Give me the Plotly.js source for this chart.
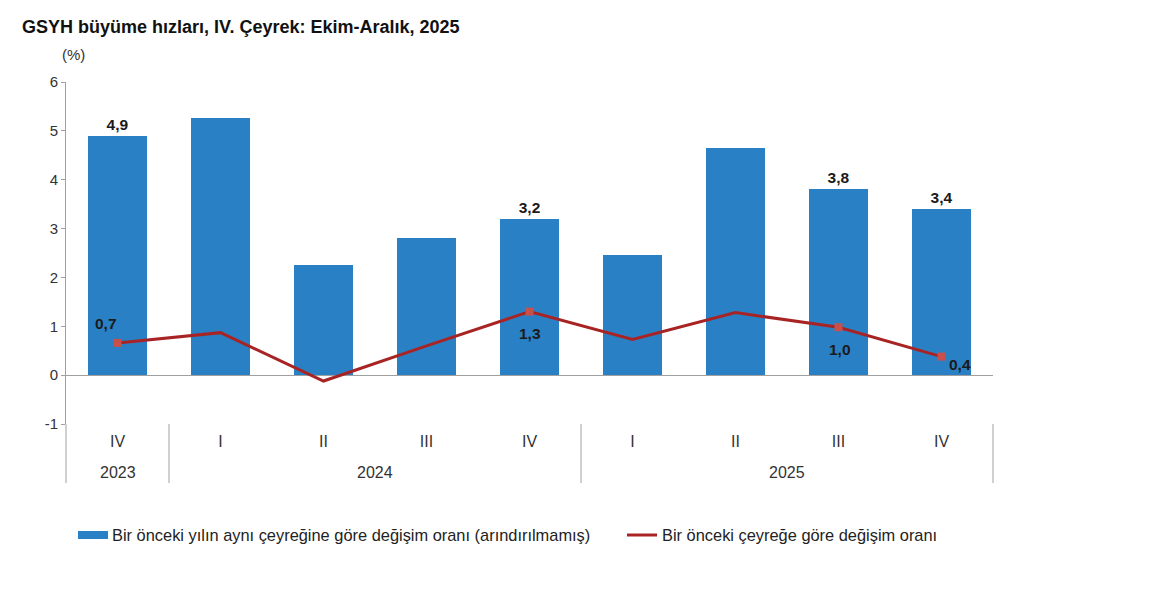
<!DOCTYPE html>
<html>
<head>
<meta charset="utf-8">
<script src="https://cdn.plot.ly/plotly-3.0.1.min.js"></script>
<style>html,body{margin:0;padding:0;background:#fff;}#chart{width:1164px;height:591px;}</style>
</head>
<body>
<div id="chart"></div>
<script>
// ---- data ----
const quarters = ['IV', 'I', 'II', 'III', 'IV', 'I', 'II', 'III', 'IV'];
const years = ['2023', '2024', '2025'];
const yearSpans = [[0, 0], [1, 4], [5, 8]];           // first/last quarter index of each year
const annualChange = [4.9, 5.26, 2.25, 2.81, 3.2, 2.46, 4.65, 3.8, 3.4];
const quarterlyChange = [0.66, 0.87, -0.12, 0.6, 1.3, 0.73, 1.28, 0.98, 0.38];
const annualLabelled = [true, false, false, false, true, false, false, true, true];
const quarterlyLabelled = [true, false, false, false, true, false, false, true, true];
const yTickVals = [-1, 0, 1, 2, 3, 4, 5, 6];
const yTickText = ['-1', '0', '1', '2', '3', '4', '5', '6'];
const seriesNames = ['Bir önceki yılın aynı çeyreğine göre değişim oranı (arındırılmamış)', 'Bir önceki çeyreğe göre değişim oranı'];

// ---- build ----
const idx = quarters.map((_, i) => i);
const fmt = v => v.toFixed(1).replace('.', ',');
const FONT = 'Liberation Sans, Arial, sans-serif';
const BLUE = '#2a80c5';
const RED = '#a82424';
const MARK = '#c8504b';
const GREY = '#a0a0a0';

const barTrace = {
  type: 'bar', x: idx, y: annualChange, width: 0.575,
  marker: {color: BLUE},
  text: annualChange.map((v, i) => annualLabelled[i] ? fmt(v) : ''),
  textposition: 'outside', cliponaxis: false,
  textfont: {family: FONT, size: 15.5, color: '#1a1a1a', weight: 'bold'},
  hoverinfo: 'y', showlegend: false
};
const lineTrace = {
  type: 'scatter', mode: 'lines', x: idx, y: quarterlyChange,
  line: {color: RED, width: 3}, hoverinfo: 'y', showlegend: false
};
const markIdx = idx.filter(i => quarterlyLabelled[i]);
const markTrace = {
  type: 'scatter', mode: 'markers',
  x: markIdx, y: markIdx.map(i => quarterlyChange[i]),
  marker: {symbol: 'square', size: 8, color: MARK},
  cliponaxis: false, hoverinfo: 'y', showlegend: false
};

const plotTop = 82, plotBottom = 424, plotLeft = 66, plotRight = 993;
const ph = plotBottom - plotTop, pw = plotRight - plotLeft;
const py = px => (plotBottom - px) / ph;          // pixel -> paper y
const pxp = px => (px - plotLeft) / pw;           // pixel -> paper x

const shapes = [
  {type: 'line', xref: 'paper', yref: 'paper', x0: 0, x1: 0, y0: py(483), y1: 0, line: {color: GREY, width: 1}},
  {type: 'line', xref: 'paper', yref: 'paper', x0: 1, x1: 1, y0: py(483), y1: py(424), line: {color: GREY, width: 1}},
  {type: 'rect', xref: 'paper', yref: 'paper', x0: pxp(78), x1: pxp(108), y0: py(539), y1: py(531), fillcolor: BLUE, line: {width: 0}},
  {type: 'line', xref: 'paper', yref: 'paper', x0: pxp(627), x1: pxp(657), y0: py(535), y1: py(535), line: {color: RED, width: 3}}
];
yearSpans.slice(0, -1).forEach(s => {
  shapes.push({type: 'line', xref: 'x', yref: 'paper', x0: s[1] + 0.5, x1: s[1] + 0.5, y0: py(483), y1: py(424), line: {color: GREY, width: 1}});
});

// label offsets (pixels) for the labelled line points
const lineLabelShift = {0: [-12, 19], 4: [0, -22], 7: [1, -22], 8: [18, -8]};

const annotations = [
  {text: '(%)', xref: 'paper', yref: 'paper', x: pxp(73), y: py(55), showarrow: false, xanchor: 'center', yanchor: 'middle', font: {family: FONT, size: 15, color: '#333'}},
  {text: seriesNames[0], xref: 'paper', yref: 'paper', x: pxp(110), y: py(535), showarrow: false, xanchor: 'left', yanchor: 'middle', font: {family: FONT, size: 16.4, color: '#222'}},
  {text: seriesNames[1], xref: 'paper', yref: 'paper', x: pxp(660), y: py(535), showarrow: false, xanchor: 'left', yanchor: 'middle', font: {family: FONT, size: 16.4, color: '#222'}}
];
years.forEach((yr, k) => {
  annotations.push({text: yr, xref: 'x', yref: 'paper', x: (yearSpans[k][0] + yearSpans[k][1]) / 2, y: py(472), showarrow: false, xanchor: 'center', yanchor: 'middle', font: {family: FONT, size: 16, color: '#333'}});
});
markIdx.forEach(i => {
  const s = lineLabelShift[i] || [0, 0];
  annotations.push({text: fmt(quarterlyChange[i]), xref: 'x', yref: 'y', x: i, y: quarterlyChange[i], xshift: s[0], yshift: s[1], showarrow: false, xanchor: 'center', yanchor: 'middle', font: {family: FONT, size: 15.5, color: '#1a1a1a', weight: 'bold'}});
});

const layout = {
  width: 1164, height: 591,
  paper_bgcolor: '#fff', plot_bgcolor: '#fff',
  margin: {l: plotLeft, r: 1164 - plotRight, t: plotTop, b: 591 - plotBottom, pad: 0},
  separators: ',.',
  title: {text: 'GSYH büyüme hızları, IV. Çeyrek: Ekim-Aralık, 2025', x: 22 / 1164, xanchor: 'left', xref: 'container', y: 1 - 27 / 591, yanchor: 'middle', yref: 'container', font: {family: FONT, size: 18, color: '#111', weight: 'bold'}},
  xaxis: {range: [-0.5, 8.5], tickvals: idx, ticktext: quarters, showgrid: false, zeroline: false, showline: false, ticks: '', ticklabelstandoff: 6, tickfont: {family: FONT, size: 16, color: '#333'}, fixedrange: true},
  yaxis: {range: [-1, 6], tickvals: yTickVals, ticktext: yTickText, showgrid: false, zeroline: true, zerolinecolor: GREY, zerolinewidth: 1, showline: true, linecolor: GREY, linewidth: 1, ticks: 'outside', ticklen: 4, tickcolor: GREY, tickfont: {family: FONT, size: 15, color: '#333'}, fixedrange: true},
  shapes: shapes, annotations: annotations, showlegend: false, bargap: 0
};

Plotly.newPlot('chart', [barTrace, lineTrace, markTrace], layout, {displayModeBar: false, staticPlot: true});
</script>
</body>
</html>
